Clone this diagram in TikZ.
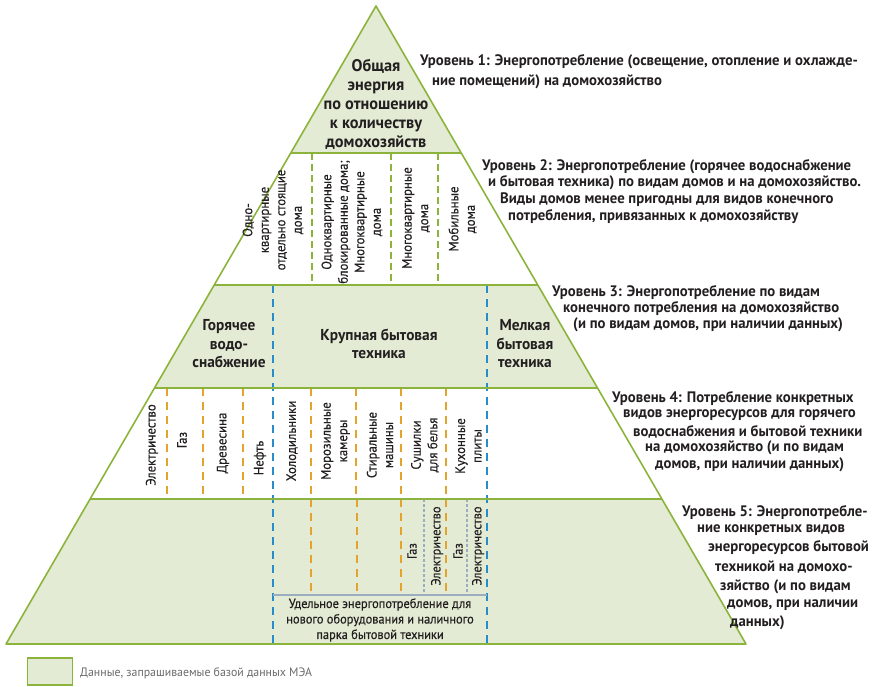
\documentclass[tikz,border=0pt]{standalone}
\usepackage{fontspec}
\setmainfont{PT Sans}
\newfontfamily\cf{PT Sans}[FakeStretch=0.94,FakeBold=0.4]
\newfontfamily\ct{PT Sans}[FakeStretch=0.97]
\usetikzlibrary{calc}
\definecolor{gr}{HTML}{8CB43C}
\definecolor{lg}{HTML}{E3EBD4}
\definecolor{bl}{HTML}{2A8BCB}
\definecolor{orc}{HTML}{E4A42B}
\definecolor{gy}{HTML}{9DADC0}
\definecolor{tx}{HTML}{231F20}
\definecolor{lgtx}{HTML}{6A6A6A}
\begin{document}
\begin{tikzpicture}[x=1pt,y=-1pt,
  outline/.style={draw=gr,line width=1.6pt,line join=round},
  gdash/.style={draw=gr,line width=1.8pt,dash pattern=on 7pt off 4pt},
  bdash/.style={draw=bl,line width=2pt,dash pattern=on 8pt off 6pt},
  odash/.style={draw=orc,line width=2pt,dash pattern=on 8pt off 6pt},
  gdot/.style={draw=gy,line width=1.8pt,dash pattern=on 2.5pt off 2.5pt},
  hline/.style={draw=gy,line width=1.6pt},
  rtext/.style={anchor=west,inner sep=0pt,text=tx,font=\ct\fontsize{15.2}{17}\selectfont\bfseries},
  ttl/.style={align=center,inner sep=0pt,text=tx,font=\ct\fontsize{16.8}{19}\selectfont\bfseries},
  ttlb/.style={align=center,inner sep=0pt,text=tx,font=\ct\fontsize{15.8}{18.5}\selectfont\bfseries},
  rot/.style={rotate=90,align=center,inner sep=0pt,text=tx,font=\cf\fontsize{13.6}{16.5}\selectfont},
  rotb/.style={rotate=90,align=center,inner sep=0pt,text=tx,font=\cf\fontsize{13.2}{16}\selectfont},
  small/.style={align=center,inner sep=0pt,text=tx,font=\cf\fontsize{13.2}{15.5}\selectfont}
]
\useasboundingbox (0,0) rectangle (877,686);
\coordinate (A) at (376,6);
\coordinate (BL) at (6,644);
\coordinate (BR) at (746,644);
\coordinate (L1) at (290.75,153); \coordinate (R1) at (461.25,153);
\coordinate (L2) at (214.2,285);  \coordinate (R2) at (537.8,285);
\coordinate (L3) at (154.5,388);  \coordinate (R3) at (597.5,388);
\coordinate (L4) at (90.1,499);   \coordinate (R4) at (661.9,499);
% fills
\fill[lg] (A) -- (R1) -- (L1) -- cycle;
\fill[lg] (L2) -- (R2) -- (R3) -- (L3) -- cycle;
\fill[lg] (L4) -- (R4) -- (BR) -- (BL) -- cycle;
% level 2 dashed
\foreach \x in {312,391,438} \draw[gdash] (\x,153) -- (\x,285);
% blue dashed
\foreach \x in {273,487} \draw[bdash] (\x,285) -- (\x,644);
% level 4 orange
\foreach \x in {167,203,243,311,356,401,446} \draw[odash] (\x,388) -- (\x,499);
% level 5
\foreach \x in {311,357,401,446} \draw[odash] (\x,499) -- (\x,595);
\foreach \x in {424,467} \draw[gdot] (\x,499) -- (\x,595);
\coordinate (H1) at (273,595); \coordinate (H2) at (487,595);
\draw[hline] (H1) -- (H2);
% outlines
\draw[outline] (L1) -- (R1);
\draw[outline] (L2) -- (R2);
\draw[outline] (L3) -- (R3);
\draw[outline] (L4) -- (R4);
\draw[outline] (A) -- (BR) -- (BL) -- cycle;
% level 1
\node[ttl] (t1) at (376,104) {Общая\\энергия\\по отношению\\к количеству\\домохозяйств};
% level 2
\node[rot] (h1) at (273,220) {Одно-\\квартирные\\отдельно стоящие\\дома};
\node[rot] (h2) at (352,222) {Одноквартирные\\блокированные дома;\\Многоквартирные\\дома};
\node[rot] (h3) at (416,218) {Многоквартирные\\дома};
\node[rot] (h4) at (462.5,219) {Мобильные\\дома};
% level 3
\node[ttlb] (g1) at (229,344) {Горячее\\водо-\\снабжение};
\node[ttlb] (g2) at (379,344) {Крупная бытовая\\техника};
\node[ttlb] (g3) at (525,344) {Мелкая\\бытовая\\техника};
% level 4
\node[rot] (e1) at (152,445) {Электричество};
\node[rot] (e2) at (182,440) {Газ};
\node[rot] (e3) at (223,443) {Древесина};
\node[rot] (e4) at (260,458) {Нефть};
\node[rot] (a1) at (292,441) {Холодильники};
\node[rot] (a2) at (335.5,441) {Морозильные\\камеры};
\node[rot] (a3) at (380,445) {Стиральные\\машины};
\node[rot] (a4) at (425,445) {Сушилки\\для белья};
\node[rot] (a5) at (468.5,446) {Кухонные\\плиты};
% level 5
\node[rotb] (f1) at (412,551) {Газ};
\node[rotb] (f2) at (437,546) {Электричество};
\node[rotb] (f3) at (458,551) {Газ};
\node[rotb] (f4) at (478,546) {Электричество};
\node[small] (u1) at (380,620) {Удельное энергопотребление для\\нового оборудования и наличного\\парка бытовой техники};
% right texts
\node[rtext] (r1a) at (420,62) {Уровень 1: Энергопотребление (освещение, отопление и охлажде-};
\node[rtext] (r1b) at (432,82) {ние помещений) на домохозяйство};
\node[rtext] (r2a) at (482,167) {Уровень 2: Энергопотребление (горячее водоснабжение};
\node[rtext] (r2b) at (488,183) {и бытовая техника) по видам домов и на домохозяйство.};
\node[rtext] (r2c) at (500,200) {Виды домов менее пригодны для видов конечного};
\node[rtext] (r2d) at (508,217) {потребления, привязанных к домохозяйству};
\node[rtext] (r3a) at (552,292) {Уровень 3: Энергопотребление по видам};
\node[rtext] (r3b) at (563,308) {конечного потребления на домохозяйство};
\node[rtext] (r3c) at (573,325) {(и по видам домов, при наличии данных)};
\node[rtext] (r4a) at (612,398) {Уровень 4: Потребление конкретных};
\node[rtext] (r4b) at (623,415) {видов энергоресурсов для горячего};
\node[rtext] (r4c) at (633,432) {водоснабжения и бытовой техники};
\node[rtext] (r4d) at (645,448) {на домохозяйство (и по видам};
\node[rtext] (r4e) at (655,465) {домов, при наличии данных)};
\node[rtext] (r5a) at (682,512) {Уровень 5: Энергопотребле-};
\node[rtext] (r5b) at (697,530) {ние конкретных видов};
\node[rtext] (r5c) at (708,548) {энергоресурсов бытовой};
\node[rtext] (r5d) at (715,567) {техникой на домохо-};
\node[rtext] (r5e) at (720,587) {зяйство (и по видам};
\node[rtext] (r5f) at (727,605) {домов, при наличии};
\node[rtext] (r5g) at (730,623) {данных)};
% legend
\node[draw=gr,fill=lg,line width=1.6pt,minimum width=45pt,minimum height=27pt,inner sep=0pt] (leg) at (50,671.5) {};
\node[anchor=west,inner sep=0pt,text=lgtx,font=\ct\fontsize{12.2}{14}\selectfont] (legt) at (80,673) {Данные, запрашиваемые базой данных МЭА};
\end{tikzpicture}
\end{document}
